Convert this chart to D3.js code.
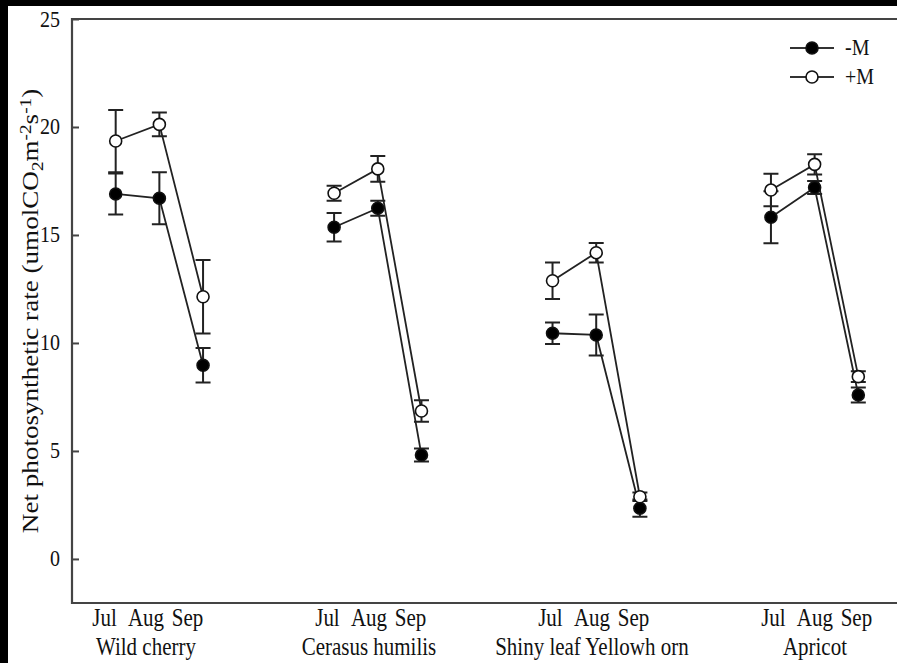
<!DOCTYPE html>
<html><head><meta charset="utf-8">
<script src="https://cdn.jsdelivr.net/npm/d3@7"></script>
<style>html,body{margin:0;padding:0;background:#000;} svg{display:block;}</style>
</head><body>
<svg id="c" width="897" height="663"></svg>
<script>
const categories = ["Wild cherry", "Cerasus humilis", "Shiny leaf Yellowh orn", "Apricot"];
const months = ["Jul", "Aug", "Sep"];
const yTicks = [0, 5, 10, 15, 20, 25];
const seriesNames = ["-M", "+M"];
const minusM    = [16.9, 16.7, 8.97, 15.36, 16.24, 4.81, 10.45, 10.37, 2.35, 15.82, 17.2, 7.59];
const minusMErr = [0.95, 1.2, 0.8, 0.66, 0.35, 0.3, 0.5, 0.95, 0.4, 1.2, 0.3, 0.35];
const plusM     = [19.35, 20.12, 12.14, 16.93, 18.06, 6.85, 12.88, 14.18, 2.88, 17.08, 18.27, 8.44];
const plusMErr  = [1.44, 0.55, 1.7, 0.35, 0.6, 0.5, 0.85, 0.45, 0.2, 0.75, 0.47, 0.25];

(function () {
const FONT = "'Liberation Serif','Times New Roman',serif";
const TXT = "#111";
const SY = 1.15; // vertical stretch of the reference's lettering
const svg = d3.select("#c");
svg.append("rect").attr("x", 8).attr("y", 6).attr("width", 889).attr("height", 657).attr("fill", "#fff");

const mLeft = 72, mTop = 19, mBottom = 603;
const x = d3.scaleLinear().domain([0, 19]).range([mLeft, 902]);
const y = d3.scaleLinear().domain([-2.04, 25]).range([mBottom, mTop]);
const pos = (g, m) => g * 5 + m + 1;
const labelX = d3.scaleLinear().domain([0, 3]).range([x(pos(0, 1)) - 13.4, x(pos(3, 1)) + 0.3]);

function txt(parent, px, py, s, anchor, fs) {
  return parent.append("text").attr("transform", `translate(${px},${py}) scale(1,${SY})`)
    .attr("text-anchor", anchor || "middle").attr("font-family", FONT).attr("font-size", fs || 20)
    .attr("fill", TXT).text(s);
}

// frame
svg.append("path").attr("d", `M${x(19)},${mTop}H${mLeft}V${mBottom}H${x(19)}`)
  .attr("stroke", "#444").attr("stroke-width", 2.2).attr("fill", "none");

// y axis ticks (inward)
const yAxis = svg.append("g").attr("transform", `translate(${mLeft},0)`)
  .call(d3.axisRight(y).tickValues(yTicks).tickSize(7).tickFormat(""));
yAxis.select(".domain").remove();
yAxis.selectAll("line").attr("stroke", "#444").attr("stroke-width", 2);
const yl = svg.append("g");
yTicks.forEach(d => txt(yl, 60, y(d) + 7.5, d, "end"));

// y title
const yt = svg.append("text").attr("transform", "translate(38,311) rotate(-90) scale(1.13,1)")
  .attr("text-anchor", "middle").attr("font-family", FONT).attr("font-size", 24).attr("fill", TXT);
yt.append("tspan").text("Net photosynthetic rate (umolCO");
yt.append("tspan").attr("baseline-shift", "-25%").attr("font-size", 17).text("2");
yt.append("tspan").text("m");
yt.append("tspan").attr("baseline-shift", "45%").attr("font-size", 17).text("-2");
yt.append("tspan").text("s");
yt.append("tspan").attr("baseline-shift", "45%").attr("font-size", 17).text("-1");
yt.append("tspan").text(")");

// x labels
const xl = svg.append("g");
categories.forEach((c, g) => {
  months.forEach((m, i) => txt(xl, labelX(g) + (i - 1) * 41.5, 626, m, "middle", 21));
  txt(xl, labelX(g), 655, c, "middle", 21);
});

// data
const series = [
  {name: seriesNames[0], vals: minusM, errs: minusMErr, fill: "#000"},
  {name: seriesNames[1], vals: plusM, errs: plusMErr, fill: "#fff"}
];
const line = d3.line().x(d => x(d.p)).y(d => y(d.v));
const cap = 7.5;
series.forEach(s => {
  const pts = s.vals.map((v, i) => ({p: pos(Math.floor(i / 3), i % 3), v, e: s.errs[i], g: Math.floor(i / 3)}));
  const eg = svg.append("g").attr("stroke", "#222").attr("stroke-width", 2).attr("fill", "none");
  pts.forEach(d => {
    eg.append("path").attr("d",
      `M${x(d.p)},${y(d.v + d.e)}V${y(d.v - d.e)}` +
      `M${x(d.p) - cap},${y(d.v + d.e)}H${x(d.p) + cap}` +
      `M${x(d.p) - cap},${y(d.v - d.e)}H${x(d.p) + cap}`);
  });
  d3.range(4).forEach(g => {
    svg.append("path").datum(pts.filter(d => d.g === g)).attr("d", line)
      .attr("fill", "none").attr("stroke", "#222").attr("stroke-width", 1.8);
  });
  s.pts = pts;
});
series.forEach(s => {
  svg.append("g").selectAll("circle").data(s.pts).join("circle")
    .attr("cx", d => x(d.p)).attr("cy", d => y(d.v)).attr("r", 6)
    .attr("fill", s.fill).attr("stroke", "#111").attr("stroke-width", 1.6);
});

// legend
const lg = svg.append("g");
series.forEach((s, i) => {
  const ly = 48 + i * 29;
  lg.append("line").attr("x1", 790).attr("x2", 834).attr("y1", ly).attr("y2", ly).attr("stroke", "#333").attr("stroke-width", 2);
  lg.append("circle").attr("cx", 812).attr("cy", ly).attr("r", 6).attr("fill", s.fill).attr("stroke", "#111").attr("stroke-width", 1.6);
  txt(lg, 845, ly + 7, s.name, "start");
});
})();
</script>
</body></html>
